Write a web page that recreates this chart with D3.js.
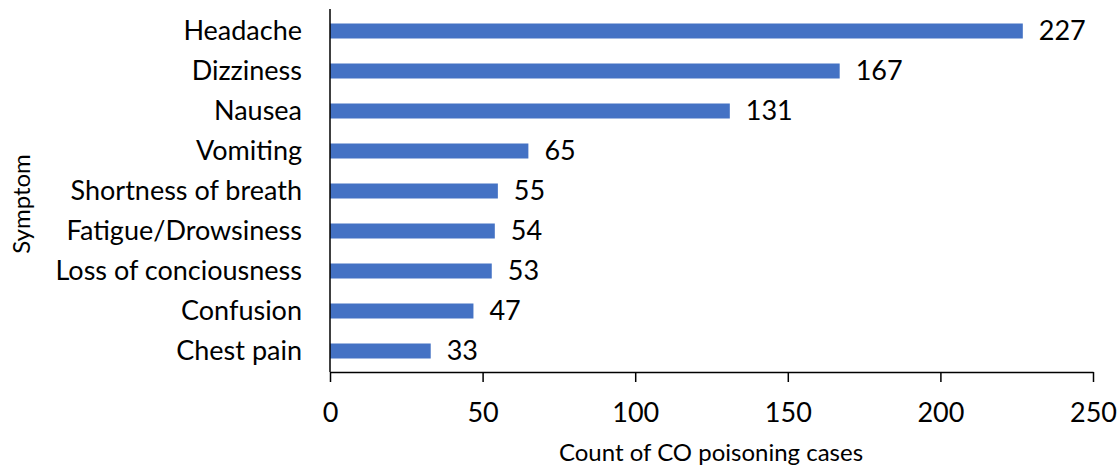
<!DOCTYPE html>
<html>
<head>
<meta charset="utf-8">
<script src="https://cdn.jsdelivr.net/npm/d3@7"></script>
<style>
  html, body { margin: 0; padding: 0; background: #fff; }
  svg { display: block; font-family: Lato, "Open Sans", sans-serif; }
</style>
</head>
<body>
<svg id="chart" width="1120" height="466"></svg>
<script>
// Symptoms reported in CO poisoning cases, top to bottom
const symptoms = [
  "Headache", "Dizziness", "Nausea", "Vomiting", "Shortness of breath",
  "Fatigue/Drowsiness", "Loss of conciousness", "Confusion", "Chest pain"
];
const caseCounts = [227, 167, 131, 65, 55, 54, 53, 47, 33];
const xTicks = [0, 50, 100, 150, 200, 250];

const svg = d3.select("#chart");
const margin = { left: 330, right: 27, top: 11, bottom: 95 };
const W = 1120, H = 466;
const labelSize = 27;
const titleSize = 24;
const font = "Lato, sans-serif";

const x = d3.scaleLinear().domain([0, 250]).range([margin.left, W - margin.right]);
const y = d3.scaleBand().domain(symptoms)
  .range([margin.top, H - margin.bottom])
  .paddingInner(0.625).paddingOuter(0.3125);

const barColor = "#4472c4";

// Bars
svg.append("g").selectAll("rect")
  .data(symptoms)
  .join("rect")
  .attr("x", x(0))
  .attr("y", d => y(d))
  .attr("width", (d, i) => x(caseCounts[i]) - x(0))
  .attr("height", y.bandwidth())
  .attr("fill", barColor);

// Value labels
svg.append("g").selectAll("text")
  .data(symptoms)
  .join("text")
  .attr("x", (d, i) => x(caseCounts[i]) + 16)
  .attr("y", d => y(d) + y.bandwidth() / 2)
  .attr("dy", "0.33em")
  .attr("font-size", labelSize)
  .attr("font-family", font)
  .attr("fill", "#000")
  .text((d, i) => caseCounts[i]);

// Category labels
const yAxis = svg.append("g")
  .attr("transform", `translate(${x(0)},0)`)
  .call(d3.axisLeft(y).tickSize(0).tickPadding(28));
yAxis.select(".domain").remove();
yAxis.selectAll("text")
  .attr("dy", "0.33em")
  .attr("font-size", labelSize).attr("font-family", font).attr("fill", "#000");

// Vertical baseline at zero
svg.append("line")
  .attr("x1", x(0)).attr("x2", x(0))
  .attr("y1", margin.top - 2).attr("y2", H - margin.bottom + 1)
  .attr("stroke", "#000").attr("stroke-width", 1.5);

// Bottom axis
const xAxis = svg.append("g")
  .attr("transform", `translate(0,${H - margin.bottom + 1})`)
  .call(d3.axisBottom(x).tickValues(xTicks).tickSize(10).tickSizeOuter(0));
xAxis.select(".domain").attr("stroke", "#000").attr("stroke-width", 1.5);
xAxis.selectAll(".tick line").attr("stroke", "#000").attr("stroke-width", 1.5);
xAxis.selectAll("text")
  .attr("y", 40).attr("dy", "0.36em")
  .attr("font-size", labelSize).attr("font-family", font).attr("fill", "#000");

// Axis titles
svg.append("text")
  .attr("x", 711).attr("y", 452)
  .attr("dy", "0.36em")
  .attr("text-anchor", "middle")
  .attr("font-size", titleSize)
  .attr("fill", "#000")
  .text("Count of CO poisoning cases");

svg.append("text")
  .attr("transform", "translate(21,204) rotate(-90)")
  .attr("dy", "0.36em")
  .attr("text-anchor", "middle")
  .attr("font-size", titleSize)
  .attr("fill", "#000")
  .text("Symptom");
</script>
</body>
</html>
